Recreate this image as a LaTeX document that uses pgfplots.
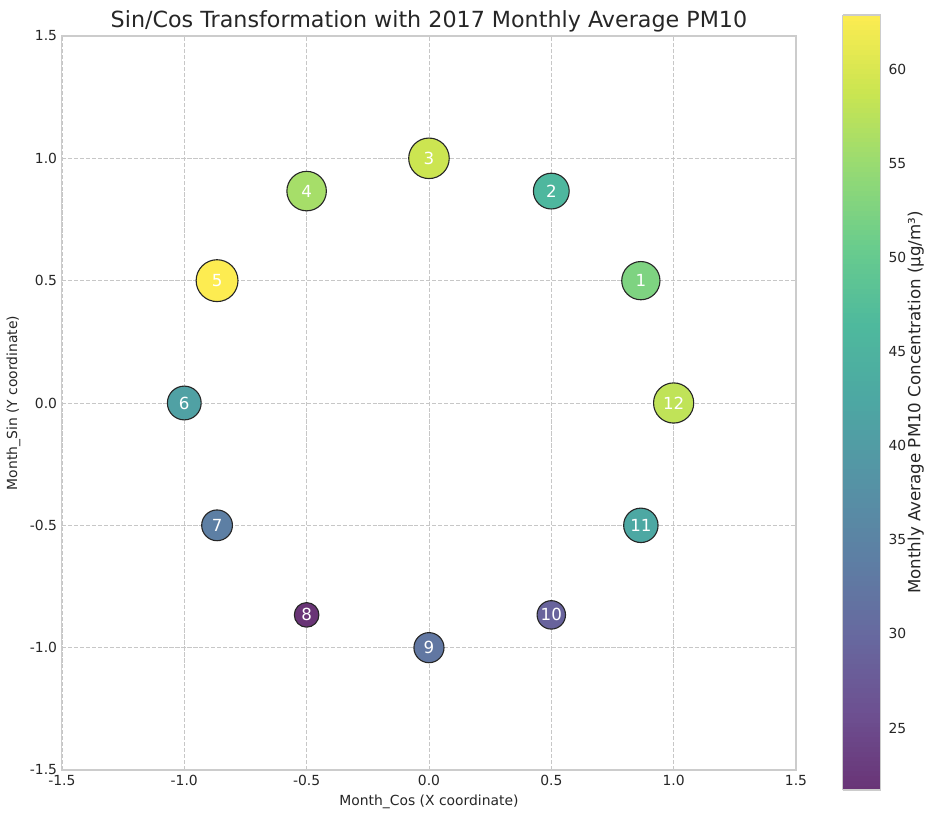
\documentclass[border=0pt]{standalone}
\usepackage{pgfplots}
\pgfplotsset{compat=1.18}
\usepackage{pgfplotstable}
\usepackage{fontspec}
\setmainfont{DejaVu Sans}
\definecolor{spine}{RGB}{204,204,204}
\definecolor{txt}{RGB}{38,38,38}
\pgfplotstableread{
m x y v
1 0.8660 0.5 52.5
2 0.5 0.8660 46
3 0 1 59
4 -0.5 0.8660 56
5 -0.8660 0.5 62.9
6 -1 0 41
7 -0.8660 -0.5 34
8 -0.5 -0.8660 21.7
9 0 -1 32.5
10 0.5 -0.8660 29
11 0.8660 -0.5 42.5
12 1 0 58
}\datatable
\begin{document}
\begin{tikzpicture}
\begin{axis}[
  scale only axis, width=528.5pt, height=528.5pt,
  xmin=-1.5, xmax=1.5, ymin=-1.5, ymax=1.5,
  xtick={-1.5,-1,-0.5,0,0.5,1,1.5},
  ytick={-1.5,-1,-0.5,0,0.5,1,1.5},
  /pgf/number format/assume math mode=true,
  xticklabel style={/pgf/number format/.cd, fixed, fixed zerofill, precision=1},
  yticklabel style={/pgf/number format/.cd, fixed, fixed zerofill, precision=1},
  ticklabel style={font=\fontsize{10}{12}\selectfont, text=txt},
  major tick length=0pt,
  tick align=outside,
  axis line style={spine, line width=0.8pt},
  grid=major,
  major grid style={black!22, line width=0.6pt, dash pattern=on 3pt off 1.3pt},
  title={Sin/Cos Transformation with 2017 Monthly Average PM10},
  title style={font=\fontsize{16}{19}\selectfont, text=txt, yshift=-7pt},
  xlabel={Month\_Cos (X coordinate)},
  ylabel={Month\_Sin (Y coordinate)},
  label style={font=\fontsize{10}{12}\selectfont, text=txt},
  colormap={viridisA}{rgb255(0cm)=(105,52,118); rgb255(1cm)=(109,80,145); rgb255(2cm)=(103,105,159); rgb255(3cm)=(93,127,164); rgb255(4cm)=(85,147,165); rgb255(5cm)=(77,167,163); rgb255(6cm)=(78,185,157); rgb255(7cm)=(105,204,141); rgb255(8cm)=(149,218,116); rgb255(9cm)=(202,229,81); rgb255(10cm)=(253,236,81)},
  point meta min=21.7, point meta max=62.9,
  colorbar sampled,
  colorbar style={
    samples=160,
    at={(parent axis.north east)}, anchor=north west,
    xshift=25.2pt, yshift=15.1pt,
    width=27.4pt, height=558pt,
    ytick={25,30,35,40,45,50,55,60},
    yticklabel pos=right,
    major tick length=0pt,
    /pgf/number format/assume math mode=true,
    yticklabel style={font=\fontsize{10}{12}\selectfont, text=txt, xshift=2pt},
    axis line style={spine, line width=0.8pt},
    ylabel={Monthly Average PM10 Concentration (μg/m³)},
    every axis y label/.style={at={(rel axis cs:1,0.5)}, rotate=90, anchor=center, yshift=-25.2pt, font=\fontsize{12}{14}\selectfont, text=txt},
  },
]
\addplot[
  scatter, only marks, mark=*,
  point meta=\thisrow{v},
  mark options={line width=0.8pt},
  scatter/use mapped color={draw=black!85, fill=mapped color},
  visualization depends on={1.9*sqrt(\thisrow{v}) \as \myrad},
  scatter/@pre marker code/.append style={/tikz/mark size=\myrad},
] table[x=x, y=y] {\datatable};
\addplot[
  only marks, mark=none,
  point meta=explicit symbolic,
  nodes near coords,
  every node near coord/.append style={anchor=center, text=white, font=\fontsize{12}{14}\selectfont},
] table[x=x, y=y, meta=m] {\datatable};
\end{axis}
\pgfresetboundingbox
\path (current axis.south west) ++(-44.6pt,-35.3pt) rectangle ++(673.2pt,589.7pt);
\end{tikzpicture}
\end{document}
